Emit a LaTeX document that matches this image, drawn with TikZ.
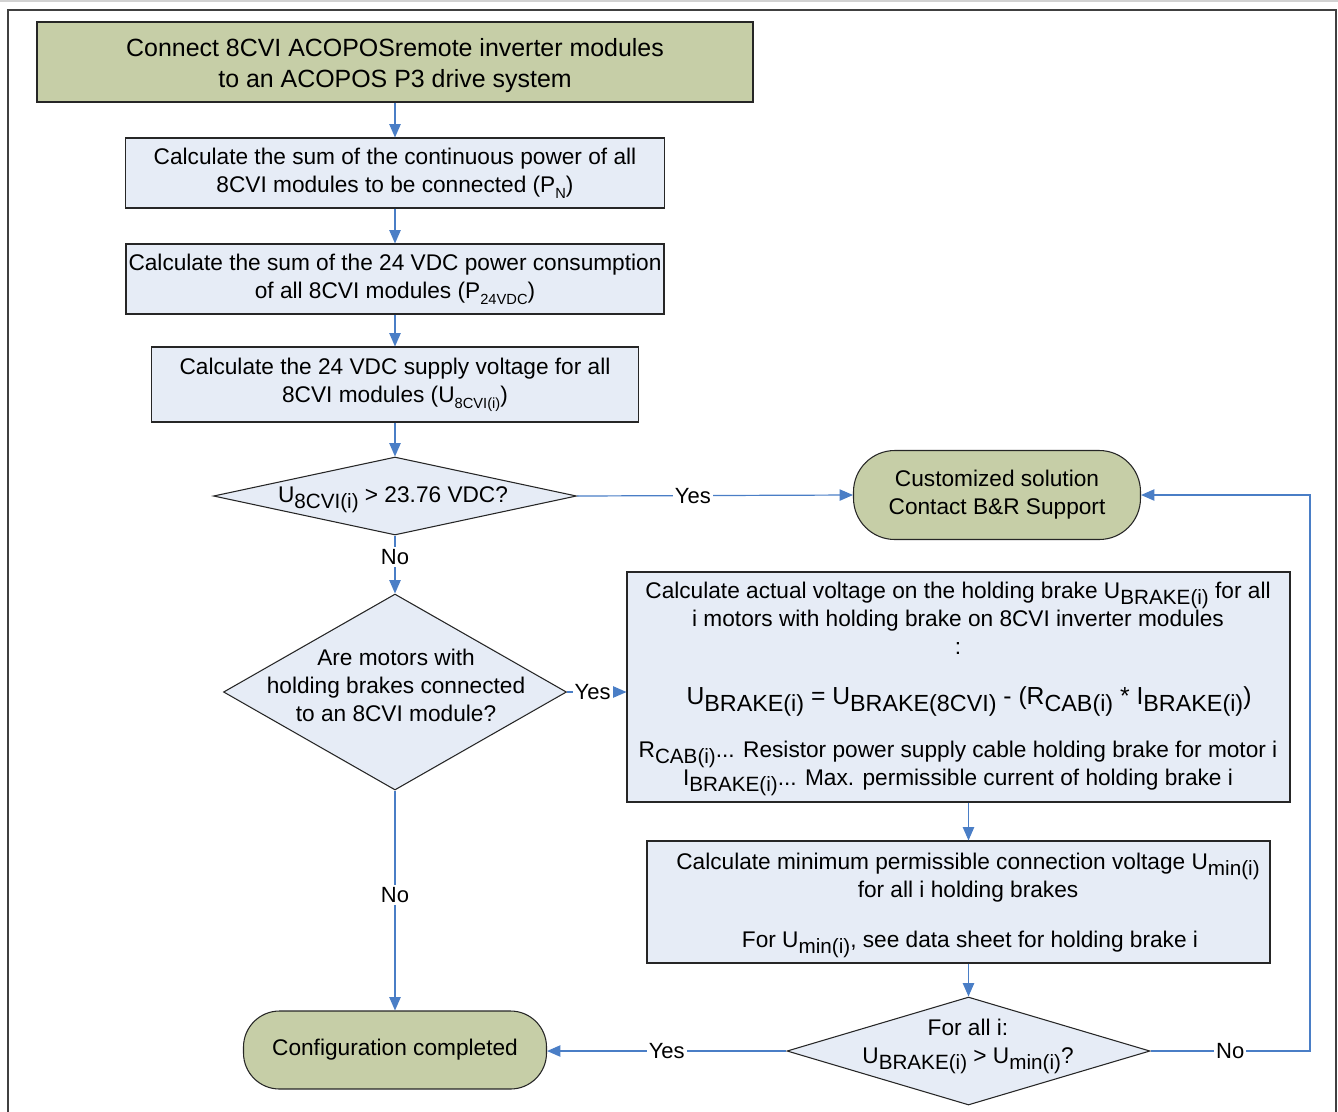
\documentclass[tikz,border=0pt]{standalone}
\usepackage{fontspec}
\setmainfont{Liberation Sans}
\usepackage{graphicx}
\usetikzlibrary{shapes.geometric,arrows.meta,calc}
\definecolor{termgreen}{HTML}{C6CEA7}
\definecolor{boxblue}{HTML}{E6ECF6}
\definecolor{arrblue}{HTML}{4A7EC6}
\newcommand\ssub[1]{\raisebox{-0.5ex}{\fontsize{11}{13}\selectfont #1}}
\newcommand\bsub[1]{\raisebox{-0.55ex}{\fontsize{15.5}{18}\selectfont #1}}
\newcommand\fsub[1]{\raisebox{-0.55ex}{\fontsize{17.5}{20}\selectfont #1}}
\begin{document}
\begin{tikzpicture}[x=0.75pt,y=-0.75pt,
  every node/.style={font=\fontsize{17}{21}\selectfont, inner sep=0pt},
  procbox/.style={draw=black!85, line width=0.8pt, fill=boxblue, align=center},
  termbox/.style={draw=black!85, line width=0.8pt, fill=termgreen, align=center},
  decbox/.style={draw=black!85, line width=0.8pt, fill=boxblue, shape=diamond, inner sep=0pt},
  txt/.style={anchor=base},
  conn/.style={draw=arrblue, line width=0.9pt},
  arr/.style={conn, -{Triangle[length=10pt,width=8.5pt]}},
  lbl/.style={fill=white, inner sep=1.5pt, font=\fontsize{16.5}{20}\selectfont},
]
\useasboundingbox (0,0) rectangle (1338,1111);
\draw[gray!35, line width=0.8pt] (0,1) -- (1338,1);
\draw[black!75, line width=1.1pt] (8,1116) -- (8,10) -- (1336,10) -- (1336,1116);

% main column
\node[termbox, minimum width=537pt, minimum height=60pt] (start) at (395,62) {};
\node[align=center, font=\fontsize{18.7}{23.25}\selectfont] (startt) at (395,65.5)
  {Connect 8CVI ACOPOSremote inverter modules\\to an ACOPOS P3 drive system};
\node[procbox, minimum width=404.25pt, minimum height=52.5pt] (sumpn) at (395,173)
  {Calculate the sum of the continuous power of all\\8CVI modules to be connected (P\ssub{N})};
\node[procbox, minimum width=403.5pt, minimum height=52.5pt] (sum24) at (395,279)
  {Calculate the sum of the 24 VDC power consumption\\of all 8CVI modules (P\ssub{24VDC})};
\node[procbox, minimum width=365.25pt, minimum height=56.25pt] (u8cvi) at (395,384.5)
  {Calculate the 24 VDC supply voltage for all\\8CVI modules (U\ssub{8CVI(i)})};

\node[decbox, minimum width=272.25pt, minimum height=58.5pt] (dec1) at (395,496) {};
\node[txt] (dec1t) at (393,502) {U\bsub{8CVI(i)} > 23.76 VDC?};

\node[decbox, minimum width=257.25pt, minimum height=147pt] (dec2) at (395,692) {};
\node[align=center] (dec2t) at (396,685) {Are motors with\\holding brakes connected\\to an 8CVI module?};

\node[termbox, rounded corners=27pt, minimum width=227.25pt, minimum height=58.5pt] (done) at (395,1050)
  {Configuration completed};
\node[termbox, rounded corners=31pt, minimum width=215.25pt, minimum height=66.75pt] (custom) at (997,495)
  {Customized solution\\Contact B\&R Support};

% right column
\node[procbox, minimum width=497.25pt, minimum height=172.5pt] (brake) at (958.5,687) {};
\node[txt] (bl1) at (958,598) {Calculate actual voltage on the holding brake U\bsub{BRAKE(i)} for all};
\node[txt] (bl2) at (958,626) {i motors with holding brake on 8CVI inverter modules};
\node[txt] (bl3) at (958,654) {:};
\node[txt, font=\fontsize{18.5}{22}\selectfont] (bl4) at (969,704)
  {U\fsub{BRAKE(i)} = U\fsub{BRAKE(8CVI)} - (R\fsub{CAB(i)} * I\fsub{BRAKE(i)})};
\node[txt] (bl5) at (958,757) {R\bsub{CAB(i)}... Resistor power supply cable holding brake for motor i};
\node[txt] (bl6) at (958,785) {I\bsub{BRAKE(i)}... Max. permissible current of holding brake i};

\node[procbox, minimum width=467.25pt, minimum height=91.5pt] (umin) at (958.5,902) {};
\node[txt] (um1) at (968,869) {Calculate minimum permissible connection voltage U\bsub{min(i)}};
\node[txt] (um2) at (968,897) {for all i holding brakes};
\node[txt] (um3) at (970,947) {For U\bsub{min(i)}, see data sheet for holding brake i};

\node[decbox, minimum width=272.25pt, minimum height=81pt] (dec3) at (968.5,1051) {};
\node[txt] (d3a) at (968,1035) {For all i:};
\node[txt] (d3b) at (968,1063) {U\bsub{BRAKE(i)} > U\bsub{min(i)}?};

\coordinate (rc) at (1310,1051);

% connectors
\draw[arr] (start) -- (sumpn);
\draw[arr] (sumpn) -- (sum24);
\draw[arr] (sum24) -- (u8cvi);
\draw[arr] (u8cvi) -- (dec1);
\draw[arr] (dec1.east) -- node[lbl, pos=0.42] (y1) {Yes} (custom.west);
\draw[arr] (dec1.south) -- node[lbl, pos=0.37] (n1) {No} (dec2.north);
\draw[arr] (dec2.east) -- node[lbl, pos=0.43] (y2) {Yes} (dec2.east -| brake.west);
\draw[arr] (dec2.south) -- node[lbl, pos=0.475] (n2) {No} (done.north);
\draw[arr] (brake.south -| dec3.center) -- (umin.north -| dec3.center);
\draw[arr] (umin.south -| dec3.center) -- (dec3.north);
\draw[arr] (dec3.west) -- node[lbl, pos=0.5] (y3) {Yes} (dec3.west -| done.east);
\draw[arr] (dec3.east) -- node[lbl, pos=0.5] (n3) {No} (rc) |- (custom.east);
\end{tikzpicture}
\end{document}
